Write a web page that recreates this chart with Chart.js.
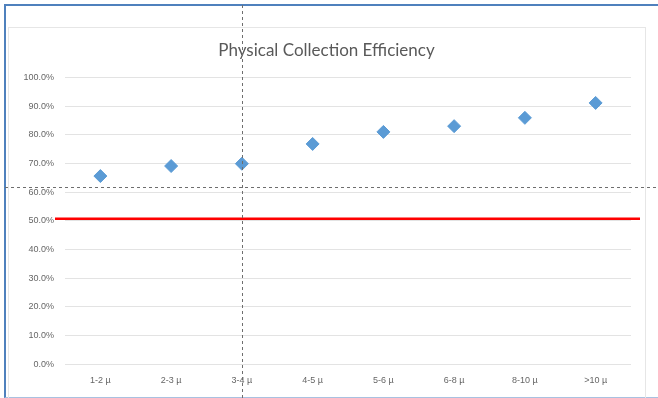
<!DOCTYPE html>
<html>
<head>
<meta charset="utf-8">
<script src="https://cdn.jsdelivr.net/npm/chart.js@4.4.0/dist/chart.umd.min.js"></script>
<style>
  body { margin: 0; background: #fff; }
  #wrap { position: relative; width: 658px; height: 398px; overflow: hidden; }
  #outer { position: absolute; left: 4px; top: 4px; width: 660px; height: 391px;
           border-top: 2px solid #4f81bd; border-left: 2px solid #4f81bd; border-bottom: 1px solid #a9c1e0; }
  #inner { position: absolute; left: 8px; top: 27px; width: 636px; height: 370px; border: 1px solid #e6e6e6; }
  canvas { position: absolute; left: 0; top: 0; }
</style>
</head>
<body>
<div id="wrap">
  <div id="outer"></div>
  <div id="inner"></div>
  <canvas id="miGrafico" width="658" height="398"></canvas>
</div>
<script>
// datos
const categorias = ["1-2 µ", "2-3 µ", "3-4 µ", "4-5 µ", "5-6 µ", "6-8 µ", "8-10 µ", ">10 µ"];
const eficiencia = [65.6, 69.1, 69.9, 76.8, 81.0, 83.0, 85.9, 91.1];
const ticksY = [0, 10, 20, 30, 40, 50, 60, 70, 80, 90, 100];
const limite = 50.7;          // linea roja
const guiaCategoria = "3-4 µ"; // linea punteada vertical
const guiaValor = 61.8;        // linea punteada horizontal

// linea roja y guias punteadas
const lineasExtra = {
    id: "lineasExtra",
    afterDatasetsDraw(chart) {
        const ctx = chart.ctx;
        const area = chart.chartArea;
        const y = chart.scales.y;
        ctx.save();
        ctx.strokeStyle = "#ff0000";
        ctx.lineWidth = 2.5;
        const yr = y.getPixelForValue(limite);
        ctx.beginPath();
        ctx.moveTo(area.left - 10, yr);
        ctx.lineTo(area.right + 9, yr);
        ctx.stroke();
        ctx.restore();
    },
    afterDraw(chart) {
        const ctx = chart.ctx;
        const x = chart.scales.x;
        const y = chart.scales.y;
        ctx.save();
        ctx.strokeStyle = "#6e6e6e";
        ctx.lineWidth = 1;
        ctx.setLineDash([3, 3]);
        const xv = Math.round(x.getPixelForValue(categorias.indexOf(guiaCategoria))) + 0.5;
        ctx.beginPath();
        ctx.moveTo(xv, 5);
        ctx.lineTo(xv, chart.height);
        ctx.stroke();
        const yh = Math.round(y.getPixelForValue(guiaValor)) + 0.5;
        ctx.beginPath();
        ctx.moveTo(5, yh);
        ctx.lineTo(chart.width, yh);
        ctx.stroke();
        ctx.restore();
    }
};

const ctx = document.getElementById("miGrafico").getContext("2d");
const config = {
    type: "line",
    data: {
        labels: categorias,
        datasets: [{
            label: "Eficiencia",
            data: eficiencia,
            showLine: false,
            pointStyle: "rectRot",
            pointRadius: 6.5,
            pointHoverRadius: 6.5,
            pointBackgroundColor: "#5b9bd5",
            pointBorderColor: "#5b9bd5",
            pointBorderWidth: 1
        }]
    },
    options: {
        responsive: false,
        animation: false,
        layout: { padding: { left: 22, right: 27, top: 0, bottom: 1 } },
        plugins: {
            legend: { display: false },
            tooltip: { enabled: false },
            title: {
                display: true,
                text: "Physical Collection Efficiency",
                color: "#595959",
                font: { family: "Lato", size: 17, weight: "normal" },
                padding: { top: 40, bottom: 17 }
            }
        },
        scales: {
            x: {
                offset: true,
                grid: { display: false, drawTicks: false },
                border: { display: false },
                ticks: { color: "#666", font: { family: "Liberation Sans", size: 9 }, padding: 11, maxRotation: 0 }
            },
            y: {
                min: 0,
                max: 100,
                afterFit(scale) { scale.width = 43; },
                afterBuildTicks(scale) { scale.ticks = ticksY.map(v => ({ value: v })); },
                grid: { color: "#e3e3e3", drawTicks: false },
                border: { display: false },
                ticks: {
                    color: "#666",
                    font: { family: "Liberation Sans", size: 9 },
                    padding: 11,
                    callback: v => v.toFixed(1) + "%"
                }
            }
        }
    },
    plugins: [lineasExtra]
};
const miGrafico = new Chart(ctx, config);
</script>
</body>
</html>
